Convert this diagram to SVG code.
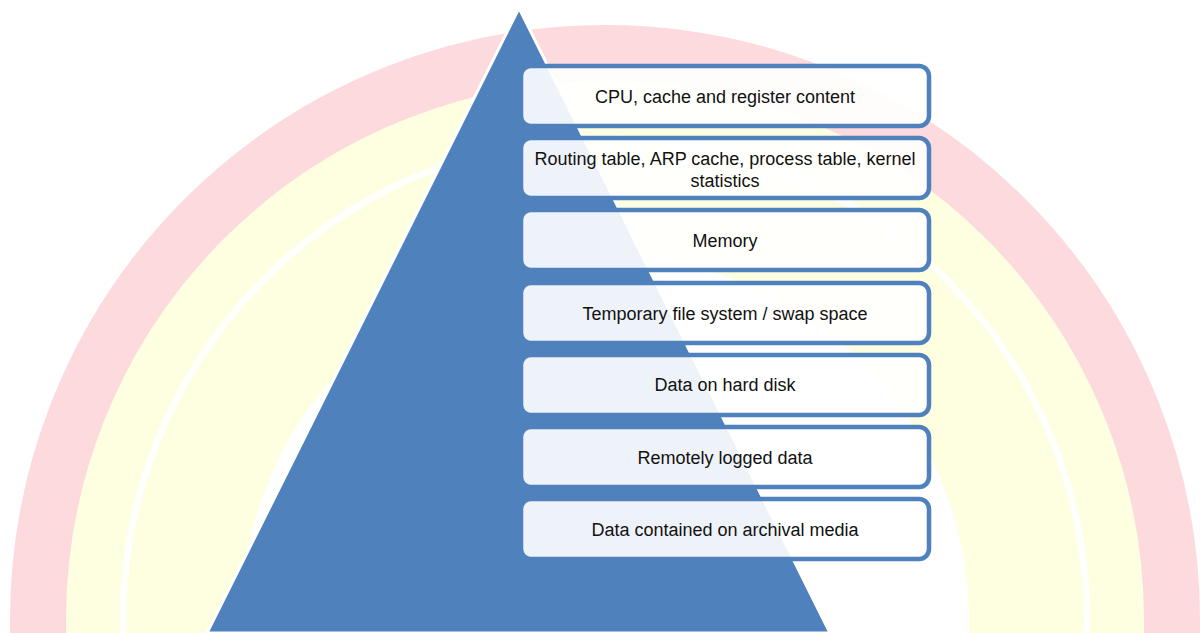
<svg xmlns="http://www.w3.org/2000/svg" width="1200" height="633" viewBox="0 0 1200 633">
  <defs>
    <style>
      .box { fill: #ffffff; fill-opacity: 0.9; stroke: #4f81bd; stroke-width: 4.5; }
      .lbl { font-family: "Liberation Sans", Arial, sans-serif; font-size: 18px; fill: #111111; text-anchor: middle; }
    </style>
  </defs>
  <rect x="0" y="0" width="1200" height="633" fill="#ffffff"/>
  <g id="watermark" fill="none">
    <circle cx="605" cy="620" r="452" stroke="#fefee0" stroke-width="176"/>
    <circle cx="605" cy="620" r="567" stroke="#fddadd" stroke-width="56"/>
    <circle cx="605" cy="620" r="482" stroke="#ffffff" stroke-width="7" stroke-opacity="0.9"/>
  </g>
  <g id="pyramid">
    <polygon points="519,8 207,633 830,633" fill="#4f81bd" stroke="#ffffff" stroke-width="3" stroke-linejoin="miter"/>
  </g>
  <g id="n1">
    <rect class="box" x="521" y="66" width="408" height="60" rx="10"/>
    <text class="lbl" x="725" y="103">CPU, cache and register content</text>
  </g>
  <g id="n2">
    <rect class="box" x="521" y="138" width="408" height="60" rx="10"/>
    <text class="lbl" x="725" y="165">Routing table, ARP cache, process table, kernel</text>
    <text class="lbl" x="725" y="187">statistics</text>
  </g>
  <g id="n3">
    <rect class="box" x="521" y="210" width="408" height="60" rx="10"/>
    <text class="lbl" x="725" y="247">Memory</text>
  </g>
  <g id="n4">
    <rect class="box" x="521" y="283" width="408" height="60" rx="10"/>
    <text class="lbl" x="725" y="320">Temporary file system / swap space</text>
  </g>
  <g id="n5">
    <rect class="box" x="521" y="355" width="408" height="60" rx="10"/>
    <text class="lbl" x="725" y="391">Data on hard disk</text>
  </g>
  <g id="n6">
    <rect class="box" x="521" y="427" width="408" height="60" rx="10"/>
    <text class="lbl" x="725" y="464">Remotely logged data</text>
  </g>
  <g id="n7">
    <rect class="box" x="521" y="499" width="408" height="60" rx="10"/>
    <text class="lbl" x="725" y="536">Data contained on archival media</text>
  </g>
  <g id="connectors"/>
</svg>
